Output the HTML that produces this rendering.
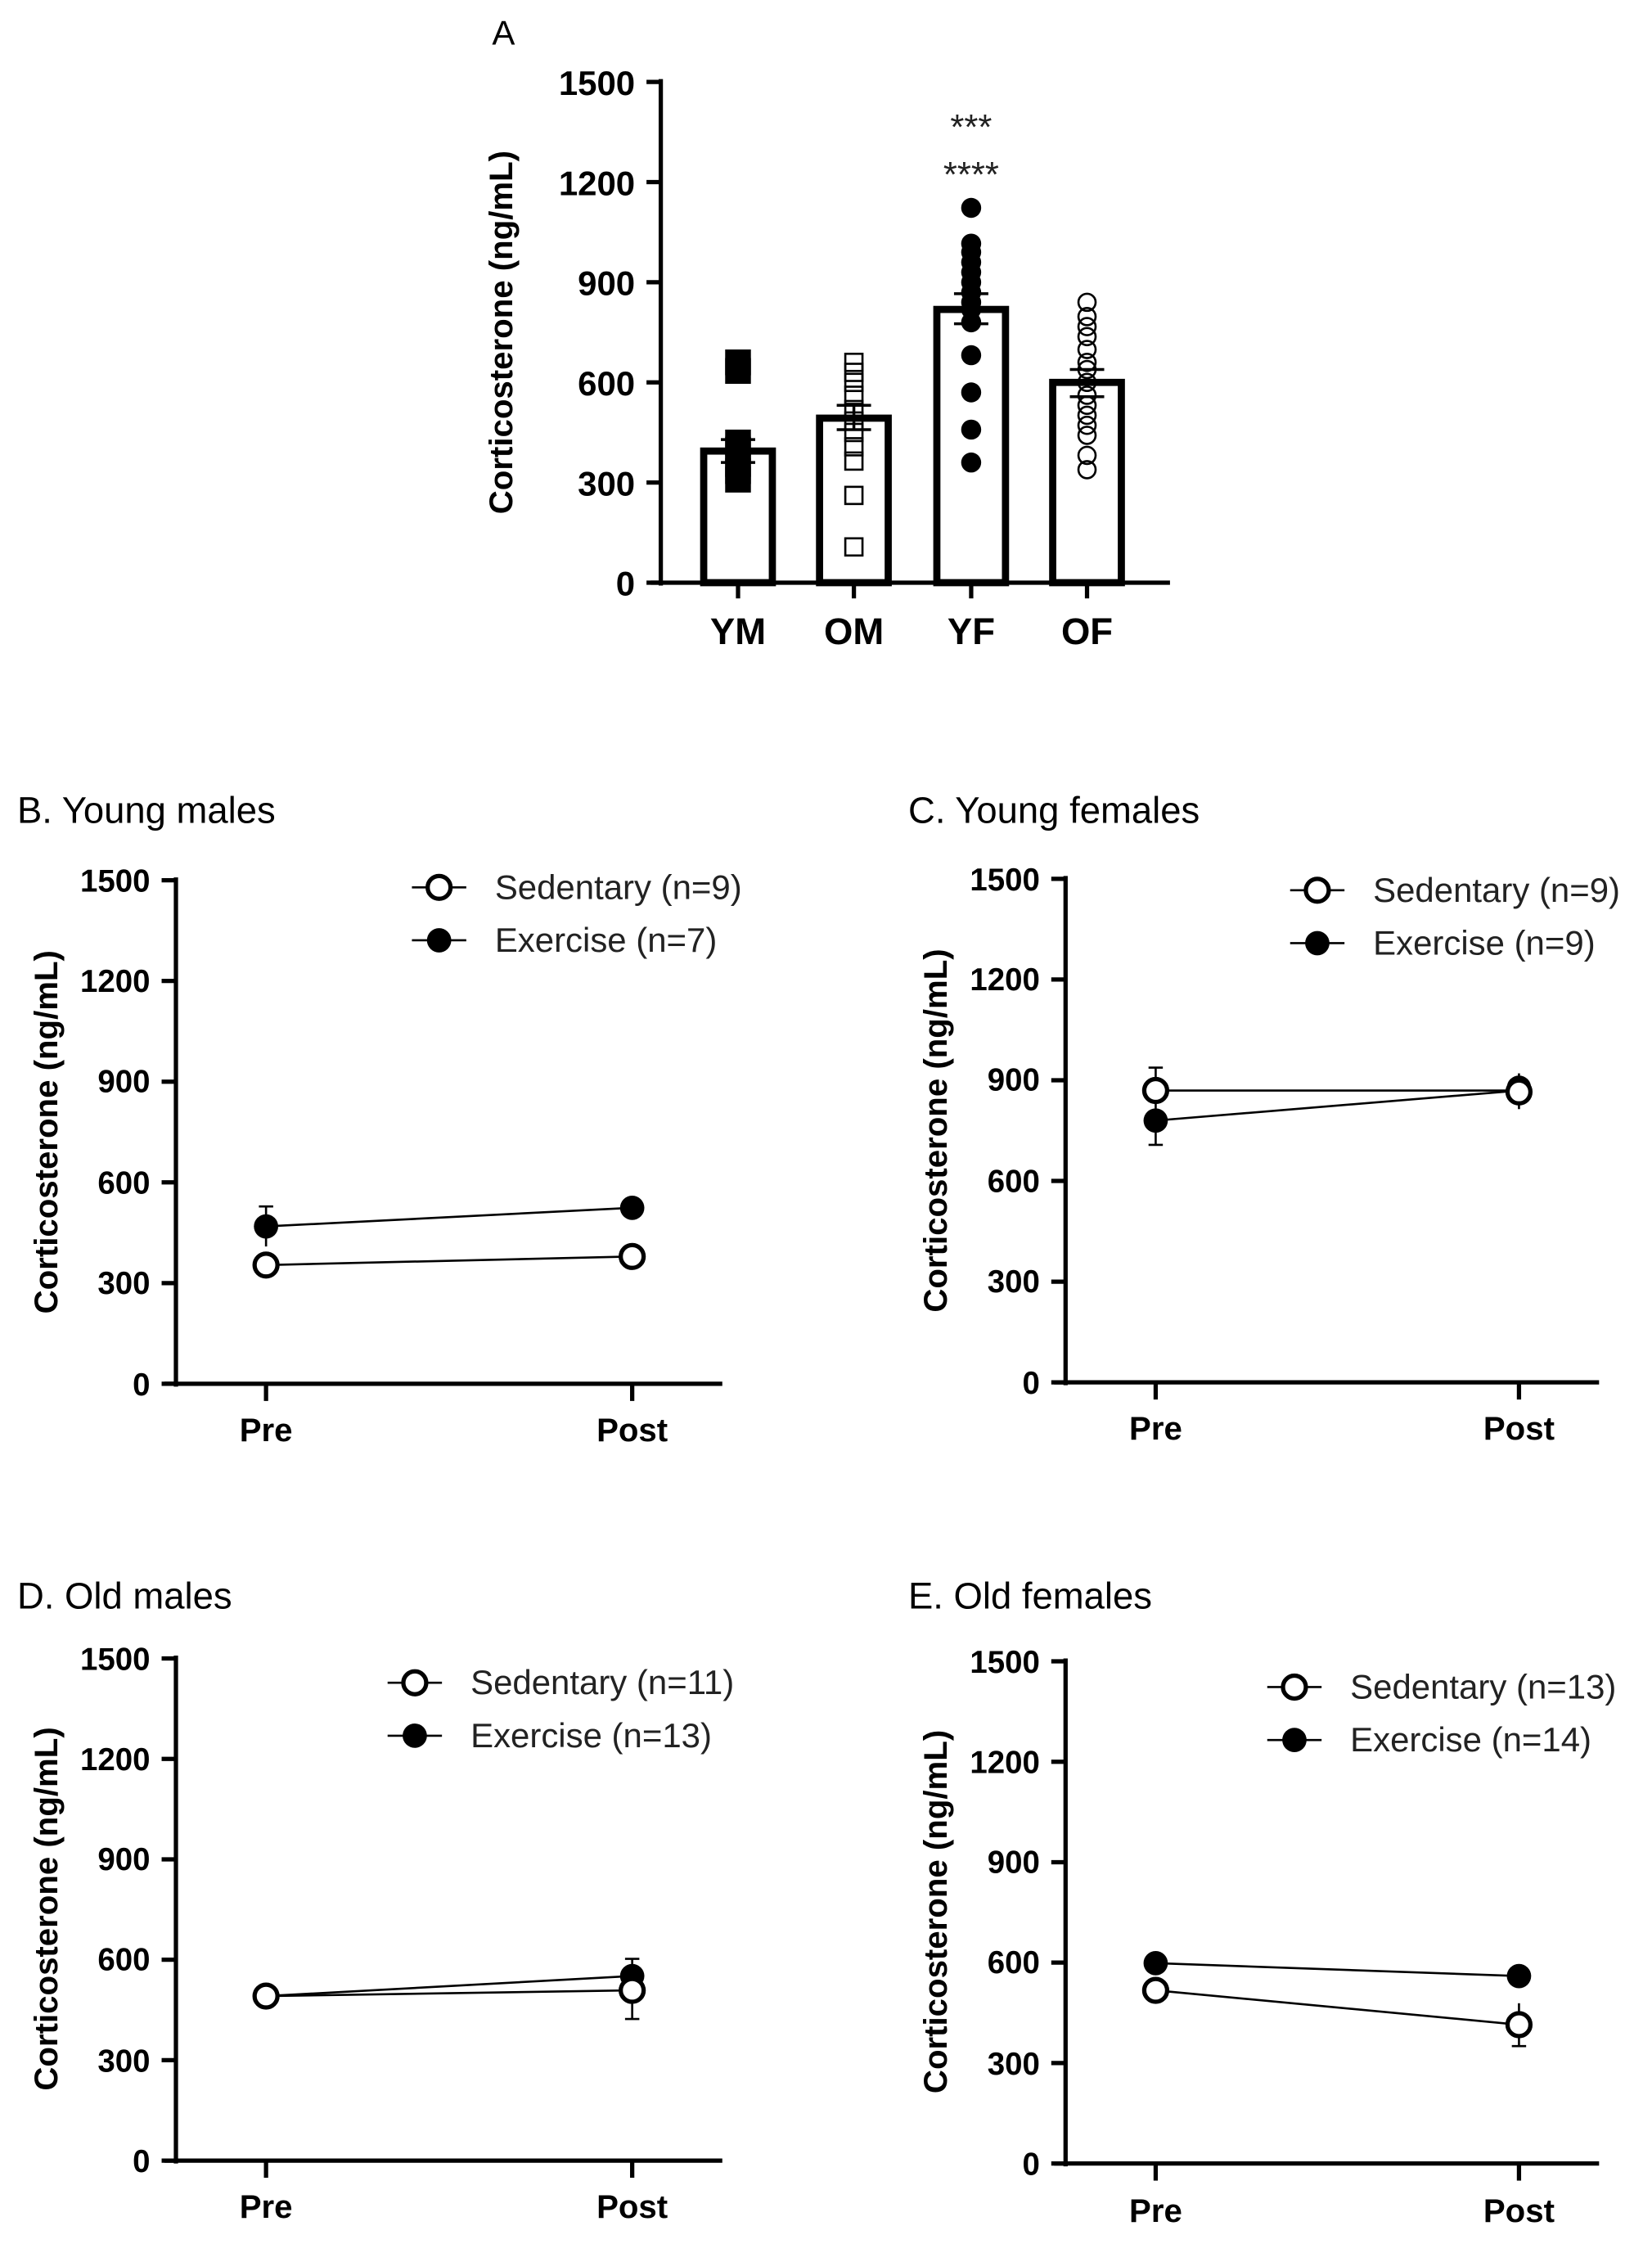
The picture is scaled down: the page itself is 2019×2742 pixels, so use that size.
<!DOCTYPE html>
<html><head><meta charset="utf-8"><style>html,body{margin:0;padding:0;background:#fff}svg{display:block}</style></head>
<body>
<svg xmlns="http://www.w3.org/2000/svg" width="2019" height="2742" viewBox="0 0 1155 1568" font-family="Liberation Sans, sans-serif">
<rect width="1155" height="1568" fill="#fff"/>
<!-- Panel A -->
<text x="352" y="31" font-size="24" text-anchor="middle">A</text>
<g stroke="#000" stroke-width="3" fill="none">
<line x1="462" y1="55" x2="462" y2="409"/>
<line x1="455" y1="407" x2="818" y2="407"/>
<line x1="452" y1="57" x2="462" y2="57"/><line x1="452" y1="127" x2="462" y2="127"/><line x1="452" y1="197" x2="462" y2="197"/><line x1="452" y1="267" x2="462" y2="267"/><line x1="452" y1="337" x2="462" y2="337"/><line x1="452" y1="407" x2="462" y2="407"/>
<line x1="516" y1="407" x2="516" y2="418"/><line x1="597" y1="407" x2="597" y2="418"/><line x1="679" y1="407" x2="679" y2="418"/><line x1="760" y1="407" x2="760" y2="418"/>
</g>
<g font-size="24" font-weight="bold" text-anchor="end">
<text x="444" y="66">1500</text><text x="444" y="136">1200</text><text x="444" y="206">900</text><text x="444" y="276">600</text><text x="444" y="346">300</text><text x="444" y="416">0</text>
</g>
<text transform="translate(358,232) rotate(-90)" font-size="23" font-weight="bold" text-anchor="middle">Corticosterone (ng/mL)</text>
<g font-size="26" font-weight="bold" text-anchor="middle">
<text x="516" y="450">YM</text><text x="597" y="450">OM</text><text x="679" y="450">YF</text><text x="760" y="450">OF</text>
</g>
<g stroke="#000" stroke-width="5" fill="none">
<rect x="492" y="315" width="48" height="92"/>
<rect x="573" y="292" width="48" height="115"/>
<rect x="655" y="216" width="48" height="191"/>
<rect x="736" y="267" width="48" height="140"/>
</g>
<g fill="#000">
<rect x="507" y="244" width="18" height="18"/><rect x="507" y="250" width="18" height="18"/>
<rect x="507" y="305" width="18" height="18"/><rect x="507" y="315" width="18" height="18"/><rect x="507" y="320" width="18" height="18"/><rect x="507" y="326" width="18" height="18"/><rect x="507" y="300" width="18" height="18"/>
</g>
<g fill="none" stroke="#000" stroke-width="1.5">
<rect x="591" y="376" width="12" height="12"/><rect x="591" y="340" width="12" height="12"/><rect x="591" y="316" width="12" height="12"/><rect x="591" y="306" width="12" height="12"/><rect x="591" y="296" width="12" height="12"/><rect x="591" y="288" width="12" height="12"/><rect x="591" y="280" width="12" height="12"/><rect x="591" y="270" width="12" height="12"/><rect x="591" y="261" width="12" height="12"/><rect x="591" y="254" width="12" height="12"/><rect x="591" y="247" width="12" height="12"/>
</g>
<g fill="#000">
<circle cx="679" cy="145" r="7"/><circle cx="679" cy="170" r="7"/><circle cx="679" cy="176" r="7"/><circle cx="679" cy="183" r="7"/><circle cx="679" cy="190" r="7"/><circle cx="679" cy="197" r="7"/><circle cx="679" cy="204" r="7"/><circle cx="679" cy="211" r="7"/><circle cx="679" cy="216" r="7"/><circle cx="679" cy="225" r="7"/><circle cx="679" cy="248" r="7"/><circle cx="679" cy="274" r="7"/><circle cx="679" cy="300" r="7"/><circle cx="679" cy="323" r="7"/>
</g>
<g fill="none" stroke="#000" stroke-width="1.5">
<circle cx="760" cy="211" r="6"/><circle cx="760" cy="221" r="6"/><circle cx="760" cy="228" r="6"/><circle cx="760" cy="235" r="6"/><circle cx="760" cy="244" r="6"/><circle cx="760" cy="253" r="6"/><circle cx="760" cy="258" r="6"/><circle cx="760" cy="267" r="6"/><circle cx="760" cy="276" r="6"/><circle cx="760" cy="283" r="6"/><circle cx="760" cy="290" r="6"/><circle cx="760" cy="297" r="6"/><circle cx="760" cy="304" r="6"/><circle cx="760" cy="318" r="6"/><circle cx="760" cy="328" r="6"/>
</g>
<g stroke="#000" stroke-width="2">
<line x1="516" y1="307" x2="516" y2="323"/><line x1="504" y1="307" x2="528" y2="307"/><line x1="504" y1="323" x2="528" y2="323"/>
<line x1="597" y1="283" x2="597" y2="300"/><line x1="585" y1="283" x2="609" y2="283"/><line x1="585" y1="300" x2="609" y2="300"/>
<line x1="667" y1="205" x2="691" y2="205"/><line x1="667" y1="226" x2="691" y2="226"/>
<line x1="748" y1="258" x2="772" y2="258"/><line x1="748" y1="277" x2="772" y2="277"/>
</g>
<g font-size="25" text-anchor="middle" fill="#222"><text x="679" y="97">***</text><text x="679" y="130">****</text></g>

<!-- Panel B -->
<g>
<text x="12" y="575" font-size="26">B. Young males</text>
<g stroke="#000" stroke-width="3"><line x1="123" y1="613" x2="123" y2="969"/><line x1="115" y1="967" x2="505" y2="967"/>
<line x1="113" y1="615" x2="123" y2="615"/><line x1="113" y1="685.4" x2="123" y2="685.4"/><line x1="113" y1="755.8" x2="123" y2="755.8"/><line x1="113" y1="826.2" x2="123" y2="826.2"/><line x1="113" y1="896.6" x2="123" y2="896.6"/><line x1="113" y1="967" x2="123" y2="967"/>
<line x1="186" y1="967" x2="186" y2="979"/><line x1="442" y1="967" x2="442" y2="979"/></g>
<g font-size="22" font-weight="bold" text-anchor="end"><text x="105" y="623">1500</text><text x="105" y="693">1200</text><text x="105" y="763">900</text><text x="105" y="834">600</text><text x="105" y="904">300</text><text x="105" y="975">0</text></g>
<text transform="translate(40,791) rotate(-90)" font-size="23" font-weight="bold" text-anchor="middle">Corticosterone (ng/mL)</text>
<g font-size="23" font-weight="bold" text-anchor="middle"><text x="186" y="1007">Pre</text><text x="442" y="1007">Post</text></g>
<g stroke="#000" stroke-width="1.5"><line x1="186" y1="857" x2="442" y2="844"/><line x1="186" y1="884" x2="442" y2="878"/><line x1="186" y1="843" x2="186" y2="871"/><line x1="181" y1="843" x2="191" y2="843"/></g>
<circle cx="186" cy="857" r="8.5" fill="#000"/><circle cx="442" cy="844" r="8.5" fill="#000"/>
<circle cx="186" cy="884" r="8" fill="#fff" stroke="#000" stroke-width="3"/><circle cx="442" cy="878" r="8" fill="#fff" stroke="#000" stroke-width="3"/>
<g stroke="#000" stroke-width="1.5"><line x1="288" y1="620" x2="326" y2="620"/><line x1="288" y1="657" x2="326" y2="657"/></g>
<circle cx="307" cy="620" r="8" fill="#fff" stroke="#000" stroke-width="3"/><circle cx="307" cy="657" r="8.5" fill="#000"/>
<g font-size="24" fill="#222"><text x="346" y="628">Sedentary (n=9)</text><text x="346" y="665">Exercise (n=7)</text></g>
</g>
<!-- Panel C -->
<g>
<text x="635" y="575" font-size="26">C. Young females</text>
<g stroke="#000" stroke-width="3"><line x1="745" y1="612" x2="745" y2="968"/><line x1="737" y1="966" x2="1118" y2="966"/>
<line x1="735" y1="614" x2="745" y2="614"/><line x1="735" y1="684.4" x2="745" y2="684.4"/><line x1="735" y1="754.8" x2="745" y2="754.8"/><line x1="735" y1="825.2" x2="745" y2="825.2"/><line x1="735" y1="895.6" x2="745" y2="895.6"/><line x1="735" y1="966" x2="745" y2="966"/>
<line x1="808" y1="966" x2="808" y2="978"/><line x1="1062" y1="966" x2="1062" y2="978"/></g>
<g font-size="22" font-weight="bold" text-anchor="end"><text x="727" y="622">1500</text><text x="727" y="692">1200</text><text x="727" y="762">900</text><text x="727" y="833">600</text><text x="727" y="903">300</text><text x="727" y="974">0</text></g>
<text transform="translate(662,790) rotate(-90)" font-size="23" font-weight="bold" text-anchor="middle">Corticosterone (ng/mL)</text>
<g font-size="23" font-weight="bold" text-anchor="middle"><text x="808" y="1006">Pre</text><text x="1062" y="1006">Post</text></g>
<g stroke="#000" stroke-width="1.5"><line x1="808" y1="762" x2="1062" y2="762"/><line x1="808" y1="783" x2="1062" y2="762"/>
<line x1="808" y1="746" x2="808" y2="800"/><line x1="803" y1="746" x2="813" y2="746"/><line x1="803" y1="800" x2="813" y2="800"/><line x1="1062" y1="750" x2="1062" y2="775"/></g>
<circle cx="808" cy="783" r="8.5" fill="#000"/><circle cx="1062" cy="760" r="8.5" fill="#000"/>
<circle cx="808" cy="762" r="8" fill="#fff" stroke="#000" stroke-width="3"/><circle cx="1062" cy="763" r="8" fill="#fff" stroke="#000" stroke-width="3"/>
<g stroke="#000" stroke-width="1.5"><line x1="902" y1="622" x2="940" y2="622"/><line x1="902" y1="659" x2="940" y2="659"/></g>
<circle cx="921" cy="622" r="8" fill="#fff" stroke="#000" stroke-width="3"/><circle cx="921" cy="659" r="8.5" fill="#000"/>
<g font-size="24" fill="#222"><text x="960" y="630">Sedentary (n=9)</text><text x="960" y="667">Exercise (n=9)</text></g>
</g>
<!-- Panel D -->
<g>
<text x="12" y="1124" font-size="26">D. Old males</text>
<g stroke="#000" stroke-width="3"><line x1="123" y1="1157" x2="123" y2="1512"/><line x1="115" y1="1510" x2="505" y2="1510"/>
<line x1="113" y1="1159" x2="123" y2="1159"/><line x1="113" y1="1229.2" x2="123" y2="1229.2"/><line x1="113" y1="1299.4" x2="123" y2="1299.4"/><line x1="113" y1="1369.6" x2="123" y2="1369.6"/><line x1="113" y1="1439.8" x2="123" y2="1439.8"/><line x1="113" y1="1510" x2="123" y2="1510"/>
<line x1="186" y1="1510" x2="186" y2="1522"/><line x1="442" y1="1510" x2="442" y2="1522"/></g>
<g font-size="22" font-weight="bold" text-anchor="end"><text x="105" y="1167">1500</text><text x="105" y="1237">1200</text><text x="105" y="1307">900</text><text x="105" y="1377">600</text><text x="105" y="1448">300</text><text x="105" y="1518">0</text></g>
<text transform="translate(40,1334) rotate(-90)" font-size="23" font-weight="bold" text-anchor="middle">Corticosterone (ng/mL)</text>
<g font-size="23" font-weight="bold" text-anchor="middle"><text x="186" y="1550">Pre</text><text x="442" y="1550">Post</text></g>
<g stroke="#000" stroke-width="1.5"><line x1="186" y1="1395" x2="442" y2="1381"/><line x1="186" y1="1395" x2="442" y2="1391"/>
<line x1="442" y1="1369" x2="442" y2="1411"/><line x1="437" y1="1411" x2="447" y2="1411"/><line x1="437" y1="1369" x2="447" y2="1369"/><line x1="186" y1="1387" x2="186" y2="1403"/></g>
<circle cx="186" cy="1395" r="8.5" fill="#000"/><circle cx="442" cy="1381" r="8.5" fill="#000"/>
<circle cx="186" cy="1395" r="8" fill="#fff" stroke="#000" stroke-width="3"/><circle cx="442" cy="1391" r="8" fill="#fff" stroke="#000" stroke-width="3"/>
<g stroke="#000" stroke-width="1.5"><line x1="271" y1="1176" x2="309" y2="1176"/><line x1="271" y1="1213" x2="309" y2="1213"/></g>
<circle cx="290" cy="1176" r="8" fill="#fff" stroke="#000" stroke-width="3"/><circle cx="290" cy="1213" r="8.5" fill="#000"/>
<g font-size="24" fill="#222"><text x="329" y="1184">Sedentary (n=11)</text><text x="329" y="1221">Exercise (n=13)</text></g>
</g>
<!-- Panel E -->
<g>
<text x="635" y="1124" font-size="26">E. Old females</text>
<g stroke="#000" stroke-width="3"><line x1="745" y1="1159" x2="745" y2="1514"/><line x1="737" y1="1512" x2="1118" y2="1512"/>
<line x1="735" y1="1161" x2="745" y2="1161"/><line x1="735" y1="1231.2" x2="745" y2="1231.2"/><line x1="735" y1="1301.4" x2="745" y2="1301.4"/><line x1="735" y1="1371.6" x2="745" y2="1371.6"/><line x1="735" y1="1441.8" x2="745" y2="1441.8"/><line x1="735" y1="1512" x2="745" y2="1512"/>
<line x1="808" y1="1512" x2="808" y2="1524"/><line x1="1062" y1="1512" x2="1062" y2="1524"/></g>
<g font-size="22" font-weight="bold" text-anchor="end"><text x="727" y="1169">1500</text><text x="727" y="1239">1200</text><text x="727" y="1309">900</text><text x="727" y="1379">600</text><text x="727" y="1450">300</text><text x="727" y="1520">0</text></g>
<text transform="translate(662,1336) rotate(-90)" font-size="23" font-weight="bold" text-anchor="middle">Corticosterone (ng/mL)</text>
<g font-size="23" font-weight="bold" text-anchor="middle"><text x="808" y="1553">Pre</text><text x="1062" y="1553">Post</text></g>
<g stroke="#000" stroke-width="1.5"><line x1="808" y1="1372" x2="1062" y2="1381"/><line x1="808" y1="1391" x2="1062" y2="1415"/>
<line x1="1062" y1="1400" x2="1062" y2="1430"/><line x1="1057" y1="1430" x2="1067" y2="1430"/></g>
<circle cx="808" cy="1372" r="8.5" fill="#000"/><circle cx="1062" cy="1381" r="8.5" fill="#000"/>
<circle cx="808" cy="1391" r="8" fill="#fff" stroke="#000" stroke-width="3"/><circle cx="1062" cy="1415" r="8" fill="#fff" stroke="#000" stroke-width="3"/>
<g stroke="#000" stroke-width="1.5"><line x1="886" y1="1179" x2="924" y2="1179"/><line x1="886" y1="1216" x2="924" y2="1216"/></g>
<circle cx="905" cy="1179" r="8" fill="#fff" stroke="#000" stroke-width="3"/><circle cx="905" cy="1216" r="8.5" fill="#000"/>
<g font-size="24" fill="#222"><text x="944" y="1187">Sedentary (n=13)</text><text x="944" y="1224">Exercise (n=14)</text></g>
</g>
</svg>
</body></html>
